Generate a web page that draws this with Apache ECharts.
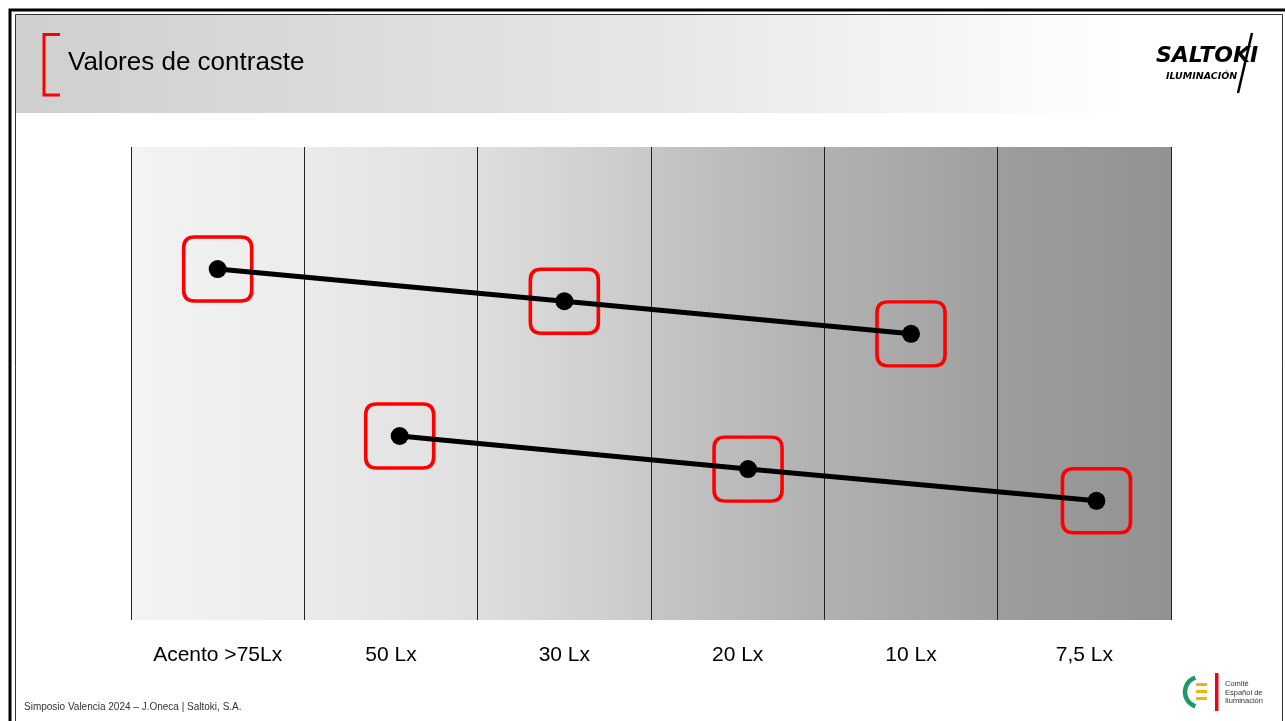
<!DOCTYPE html>
<html>
<head>
<meta charset="utf-8">
<script src="https://cdn.jsdelivr.net/npm/echarts@6/dist/echarts.min.js"></script>
<style>
html,body{margin:0;padding:0;background:#fff;}
#chart{width:1285px;height:721px;}
</style>
</head>
<body>
<div id="chart"></div>
<script>
// ---- data ----
var categories = ['Acento >75Lx', '50 Lx', '30 Lx', '20 Lx', '10 Lx', '7,5 Lx'];
var upperX = [0.5, 2.5, 4.5];
var upperY = [74.2, 67.4, 60.5];
var lowerX = [1.55, 3.56, 5.57];
var lowerY = [38.9, 31.9, 25.2];
var titleText = 'Valores de contraste';
var footerText = 'Simposio Valencia 2024 \u2013 J.Oneca | Saltoki, S.A.';

function pairs(xs, ys) { return xs.map(function (x, i) { return [x, ys[i]]; }); }

var FONT = '"Liberation Sans", Arial, sans-serif';
var bandStops = [
  ['#f3f3f3', '#ececec'],
  ['#ebebeb', '#dfdfdf'],
  ['#dedede', '#c9c9c9'],
  ['#c6c6c6', '#b0b0b0'],
  ['#b1b1b1', '#9f9f9f'],
  ['#9d9d9d', '#929292']
];
var bandColors = bandStops.map(function (s) {
  return new echarts.graphic.LinearGradient(0, 0, 1, 0, [{offset: 0, color: s[0]}, {offset: 1, color: s[1]}]);
});
var boxPath = 'path://M11,0 L57,0 Q68,0 68,11 L68,53 Q68,64 57,64 L11,64 Q0,64 0,53 L0,11 Q0,0 11,0 Z';

var chart = echarts.init(document.getElementById('chart'), null, {renderer: 'canvas'});
var option = {
  animation: false,
  backgroundColor: '#ffffff',
  grid: {left: 131, top: 147, width: 1040, height: 473, containLabel: false},
  xAxis: [
    {
      type: 'category', data: categories, boundaryGap: true,
      axisLine: {show: false}, axisTick: {show: false},
      axisLabel: {fontSize: 21, color: '#000', fontFamily: FONT, margin: 25, interval: 0},
      splitLine: {show: true, interval: 0, lineStyle: {color: '#222', width: 1}},
      splitArea: {show: true, interval: 0, areaStyle: {color: bandColors}}
    },
    {type: 'value', min: 0, max: 6, show: false}
  ],
  yAxis: {type: 'value', min: 0, max: 100, show: false},
  series: [
    {
      type: 'scatter', xAxisIndex: 1, z: 2, silent: true,
      data: pairs(upperX, upperY).concat(pairs(lowerX, lowerY)),
      symbol: boxPath, symbolSize: [68, 64], symbolKeepAspect: false,
      itemStyle: {color: 'rgba(0,0,0,0)', borderColor: '#ff0000', borderWidth: 3.5, opacity: 1}
    },
    {
      type: 'line', xAxisIndex: 1, z: 3, data: pairs(upperX, upperY),
      symbol: 'circle', symbolSize: 18, itemStyle: {color: '#000'},
      lineStyle: {color: '#000', width: 5}
    },
    {
      type: 'line', xAxisIndex: 1, z: 3, data: pairs(lowerX, lowerY),
      symbol: 'circle', symbolSize: 18, itemStyle: {color: '#000'},
      lineStyle: {color: '#000', width: 5}
    }
  ],
  graphic: [
    // header band
    {type: 'rect', shape: {x: 16, y: 15, width: 1267, height: 98}, z: -10,
      style: {fill: new echarts.graphic.LinearGradient(0, 0, 1, 0, [
        {offset: 0, color: '#cfcfcf'}, {offset: 0.5, color: '#e6e6e6'}, {offset: 0.88, color: '#ffffff'}, {offset: 1, color: '#ffffff'}])}},
    // frame
    {type: 'polyline', shape: {points: [[10, 721], [10, 10], [1285, 10]]}, style: {stroke: '#000', lineWidth: 3, fill: null}},
    {type: 'polyline', shape: {points: [[15.5, 721], [15.5, 14.5], [1282.5, 14.5], [1282.5, 721]]}, style: {stroke: '#333', lineWidth: 1, fill: null}},
    // red bracket
    {type: 'polyline', shape: {points: [[60, 34.5], [44, 34.5], [44, 95], [60, 95]]}, style: {stroke: '#ff0000', lineWidth: 3, fill: null}},
    // title
    {type: 'text', left: 68, top: 50, style: {text: titleText, fontSize: 26, fontFamily: FONT, fill: '#000'}},
    // SALTOKI logo
    {type: 'text', left: 1156, top: 45, style: {text: 'SALTOKI', fontSize: 22, fontWeight: 'bold', fontStyle: 'italic', fontFamily: '"DejaVu Sans", sans-serif', fill: '#000'}},
    {type: 'text', left: 1166, top: 72, style: {text: 'ILUMINACI\u00d3N', fontSize: 9.5, fontWeight: 'bold', fontStyle: 'italic', fontFamily: '"DejaVu Sans", sans-serif', fill: '#000'}},
    {type: 'line', shape: {x1: 1252, y1: 33, x2: 1238, y2: 93}, style: {stroke: '#000', lineWidth: 2.5}},
    // footer
    {type: 'text', left: 24, top: 702, style: {text: footerText, fontSize: 10, fontFamily: FONT, fill: '#333'}},
    // CEI logo
    {type: 'arc', shape: {cx: 1200, cy: 692, r: 15, startAngle: Math.PI * 0.6, endAngle: Math.PI * 1.4}, style: {stroke: '#1a9a6a', lineWidth: 4.5, fill: null}},
    {type: 'rect', shape: {x: 1196, y: 683, width: 11, height: 3}, style: {fill: '#f2b705'}},
    {type: 'rect', shape: {x: 1196, y: 690, width: 11, height: 3}, style: {fill: '#f2b705'}},
    {type: 'rect', shape: {x: 1196, y: 697, width: 11, height: 3}, style: {fill: '#f2b705'}},
    {type: 'rect', shape: {x: 1215, y: 673, width: 3.5, height: 38}, style: {fill: '#e30613'}},
    {type: 'text', left: 1225, top: 680, style: {text: 'Comit\u00e9\nEspa\u00f1ol de\nIluminaci\u00f3n', fontSize: 7.5, lineHeight: 8.5, fontFamily: FONT, fill: '#333'}}
  ]
};
chart.setOption(option);
</script>
</body>
</html>
